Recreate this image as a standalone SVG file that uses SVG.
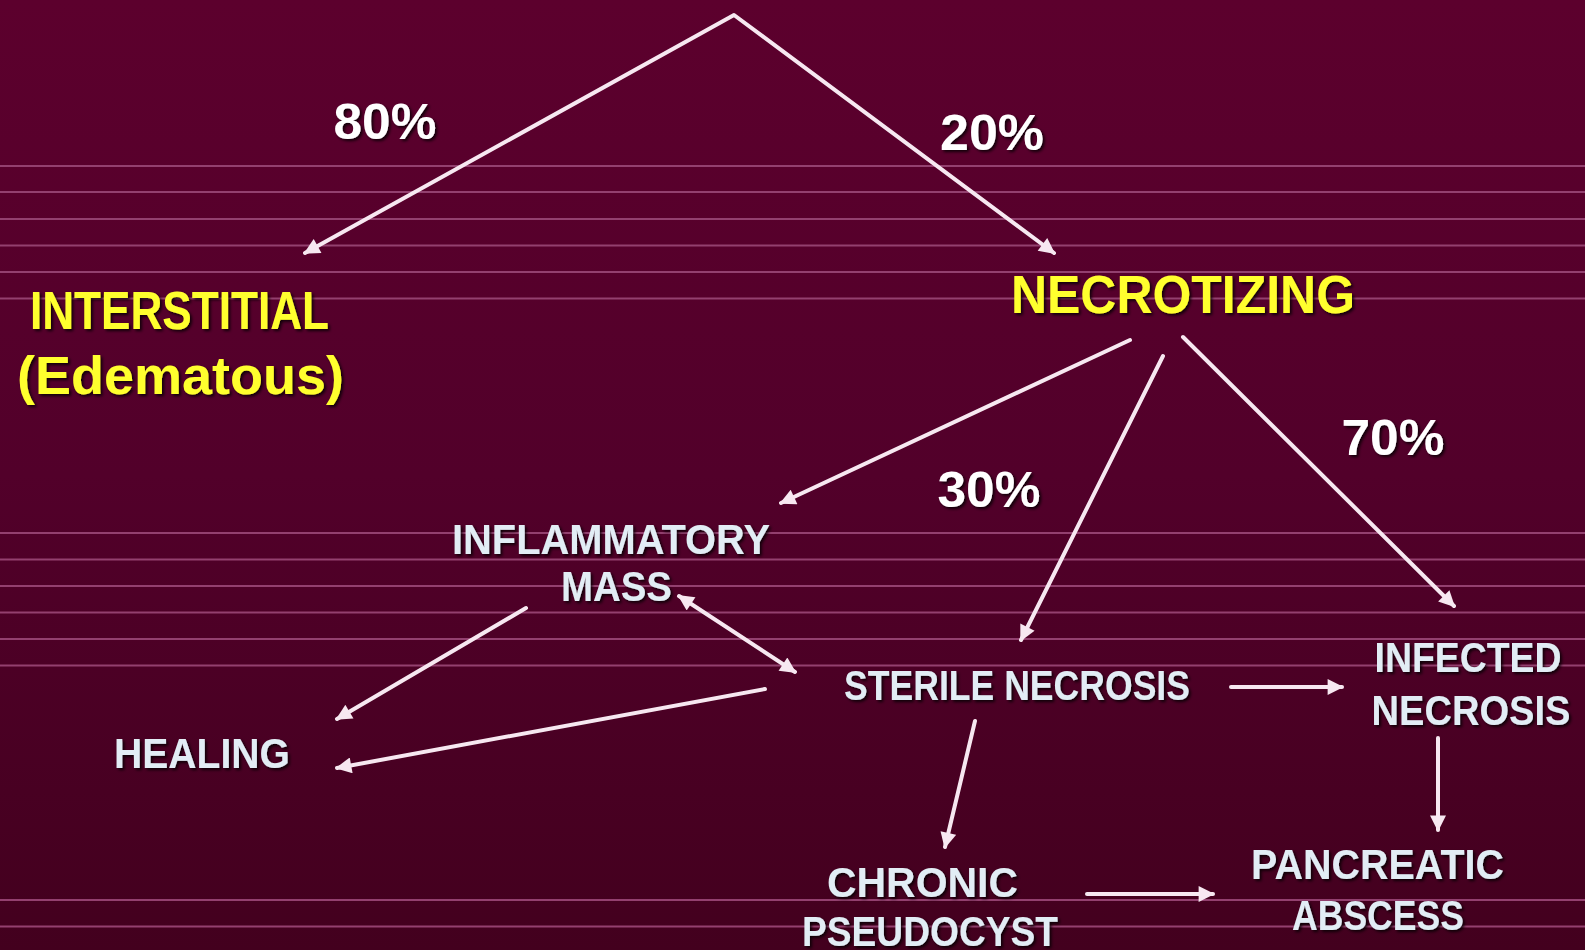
<svg xmlns="http://www.w3.org/2000/svg" width="1585" height="950" viewBox="0 0 1585 950">
<defs>
<linearGradient id="bg" x1="0" y1="0" x2="0" y2="1">
<stop offset="0" stop-color="#5c002d"/>
<stop offset="0.5" stop-color="#52002a"/>
<stop offset="1" stop-color="#43001e"/>
</linearGradient>
<filter id="sh" x="-10%" y="-30%" width="120%" height="160%">
<feDropShadow dx="2" dy="2" stdDeviation="1.5" flood-color="#000" flood-opacity="0.8"/>
</filter>
<marker id="ah" viewBox="0 0 10 10" refX="9" refY="5" markerWidth="4.5" markerHeight="4" orient="auto-start-reverse" markerUnits="strokeWidth">
<path d="M0,0 L10,5 L0,10 Z" fill="#f7e8f1"/>
</marker>
<style>
.rule{stroke:#93406f;stroke-width:2}
.c{stroke:#f7e8f1;stroke-width:4;fill:none;stroke-linecap:round;stroke-linejoin:round}
.a{marker-end:url(#ah)}
.y{font-family:"Liberation Sans",Arial,sans-serif;font-weight:bold;fill:#ffff2e;font-size:54px;text-anchor:middle;filter:url(#sh)}
.n{font-family:"Liberation Sans",Arial,sans-serif;font-weight:bold;fill:#e2edf5;font-size:43px;text-anchor:middle;filter:url(#sh)}
.p{font-family:"Liberation Sans",Arial,sans-serif;font-weight:bold;fill:#ffffff;font-size:50px;text-anchor:middle;filter:url(#sh)}
</style>
</defs>
<rect x="0" y="0" width="1585" height="950" fill="url(#bg)"/>
<g id="rules">
<line class="rule" x1="0" y1="166" x2="1585" y2="166"/>
<line class="rule" x1="0" y1="192" x2="1585" y2="192"/>
<line class="rule" x1="0" y1="219" x2="1585" y2="219"/>
<line class="rule" x1="0" y1="245.5" x2="1585" y2="245.5"/>
<line class="rule" x1="0" y1="272" x2="1585" y2="272"/>
<line class="rule" x1="0" y1="298.5" x2="1585" y2="298.5"/>
<line class="rule" x1="0" y1="533" x2="1585" y2="533"/>
<line class="rule" x1="0" y1="559.5" x2="1585" y2="559.5"/>
<line class="rule" x1="0" y1="586" x2="1585" y2="586"/>
<line class="rule" x1="0" y1="612.5" x2="1585" y2="612.5"/>
<line class="rule" x1="0" y1="639" x2="1585" y2="639"/>
<line class="rule" x1="0" y1="665.5" x2="1585" y2="665.5"/>
<line class="rule" x1="0" y1="900" x2="1585" y2="900"/>
<line class="rule" x1="0" y1="926.5" x2="1585" y2="926.5"/>
</g>
<g id="connectors">
<polyline class="c" points="305,253 734,15 1054,253" marker-start="url(#ah)" marker-end="url(#ah)"/>
<line class="c a" x1="1130" y1="340" x2="781" y2="503"/>
<line class="c a" x1="1163" y1="356" x2="1021" y2="640"/>
<line class="c a" x1="1183" y1="337" x2="1454" y2="606"/>
<line class="c a" x1="679" y1="596" x2="795" y2="672" marker-start="url(#ah)"/>
<line class="c a" x1="526" y1="608" x2="337" y2="719"/>
<line class="c a" x1="765" y1="689" x2="337" y2="768"/>
<line class="c a" x1="1231" y1="687" x2="1342" y2="687"/>
<line class="c a" x1="1438" y1="738" x2="1438" y2="830"/>
<line class="c a" x1="975" y1="721" x2="945" y2="847"/>
<line class="c a" x1="1087" y1="894" x2="1213" y2="894"/>
</g>
<g id="p80"><text class="p" x="385" y="139" textLength="103" lengthAdjust="spacingAndGlyphs">80%</text></g>
<g id="p20"><text class="p" x="992" y="150" textLength="104" lengthAdjust="spacingAndGlyphs">20%</text></g>
<g id="p30"><text class="p" x="989" y="507" textLength="103" lengthAdjust="spacingAndGlyphs">30%</text></g>
<g id="p70"><text class="p" x="1393" y="455" textLength="103" lengthAdjust="spacingAndGlyphs">70%</text></g>
<g id="interstitial">
<text class="y" x="179.5" y="329" textLength="299" lengthAdjust="spacingAndGlyphs">INTERSTITIAL</text>
<text class="y" x="180.5" y="394" textLength="327" lengthAdjust="spacingAndGlyphs">(Edematous)</text>
</g>
<g id="necrotizing"><text class="y" x="1183" y="313" textLength="344" lengthAdjust="spacingAndGlyphs">NECROTIZING</text></g>
<g id="inflammatory">
<text class="n" x="611" y="554" textLength="318" lengthAdjust="spacingAndGlyphs">INFLAMMATORY</text>
<text class="n" x="616.5" y="601" textLength="111" lengthAdjust="spacingAndGlyphs">MASS</text>
</g>
<g id="healing"><text class="n" x="202" y="768" textLength="176" lengthAdjust="spacingAndGlyphs">HEALING</text></g>
<g id="sterile"><text class="n" x="1017" y="700" textLength="346" lengthAdjust="spacingAndGlyphs">STERILE NECROSIS</text></g>
<g id="infected">
<text class="n" x="1468" y="672" textLength="187" lengthAdjust="spacingAndGlyphs">INFECTED</text>
<text class="n" x="1471" y="725" textLength="199" lengthAdjust="spacingAndGlyphs">NECROSIS</text>
</g>
<g id="pseudocyst">
<text class="n" x="922.5" y="897" textLength="191" lengthAdjust="spacingAndGlyphs">CHRONIC</text>
<text class="n" x="930" y="946" textLength="256" lengthAdjust="spacingAndGlyphs">PSEUDOCYST</text>
</g>
<g id="abscess">
<text class="n" x="1377.5" y="879" textLength="253" lengthAdjust="spacingAndGlyphs">PANCREATIC</text>
<text class="n" x="1378" y="930" textLength="172" lengthAdjust="spacingAndGlyphs">ABSCESS</text>
</g>
</svg>
